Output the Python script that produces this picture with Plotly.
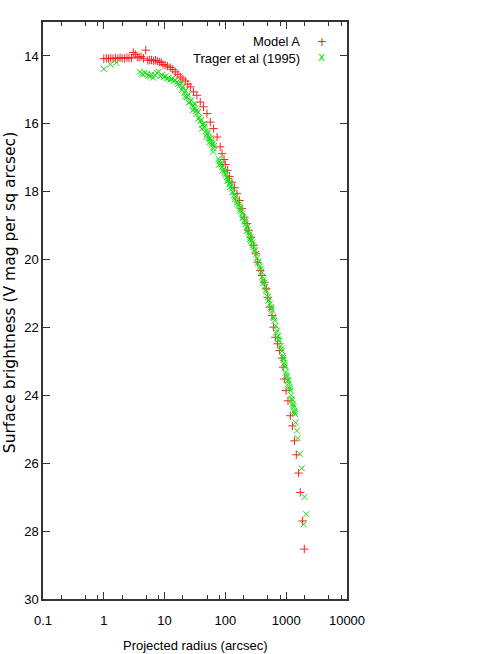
import plotly.graph_objects as go

# Model A surface brightness profile (radius in arcsec, V mag per sq arcsec)
model_r = [1.0, 1.1, 1.2, 1.3, 1.42, 1.55, 1.7, 1.85, 2.0, 2.2, 2.4, 2.6, 2.85,
           3.05, 3.3, 3.55, 3.8, 4.1, 4.5, 4.9, 5.3, 5.7, 6.1, 6.6, 7.1, 7.6,
           8.2, 8.8, 9.4, 10.2, 11.2, 12.4, 13.6, 15.0, 16.5, 18.1, 19.9, 21.9,
           24.1, 26.5, 29.9, 34.0, 38.6, 43.6, 49.7, 56.5, 64, 73, 82, 88, 95,
           99.6, 108.5, 117, 128, 141, 155, 171, 188, 204, 227, 240, 264, 291,
           318, 339, 375, 400, 436, 471, 494, 533, 584, 621, 662, 722, 778, 853,
           890, 931, 993, 1070, 1168, 1264, 1370, 1466, 1600, 1706, 1860, 1985]
model_mu = [14.08, 14.07, 14.08, 14.07, 14.08, 14.06, 14.08, 14.05, 14.07, 14.07,
            14.05, 14.06, 14.06, 13.9, 13.96, 14.03, 14.04, 14.02, 14.07, 13.83,
            14.13, 14.12, 14.12, 14.14, 14.13, 14.15, 14.18, 14.19, 14.25, 14.27,
            14.3, 14.34, 14.4, 14.47, 14.54, 14.62, 14.68, 14.74, 14.83, 14.91,
            15.06, 15.16, 15.36, 15.5, 15.7, 15.95, 16.14, 16.39, 16.68, 16.88,
            17.05, 17.2, 17.37, 17.55, 17.72, 17.88, 18.06, 18.26, 18.5, 18.75,
            18.94, 19.14, 19.34, 19.58, 19.83, 20.08, 20.32, 20.47, 20.67, 20.86,
            21.11, 21.4, 21.65, 21.99, 22.29, 22.48, 22.68, 22.9, 23.17, 23.52,
            23.86, 24.16, 24.6, 24.9, 25.34, 25.75, 26.29, 26.86, 27.7, 28.53]

# Trager et al (1995) observed profile
trager_r = [1.0, 1.28, 1.6, 3.9, 4.2, 4.4, 4.7, 5.1, 5.4, 5.8, 6.1, 6.45, 7.0,
            7.5, 7.95, 8.5, 9.0, 9.65, 10.3, 10.9, 11.6, 12.4, 13.2, 14.1, 15.0,
            16.0, 16.8, 17.7, 18.5, 19.3, 20.0, 21.0, 21.5, 22.0, 23.3, 24.5, 25,
            26.0, 27.5, 28.5, 29, 30.0, 31.5, 32, 33.0, 34.0, 35.5, 36, 37.0, 38.6,
            40.0, 41, 42.0, 44.0, 45, 46.0, 48.0, 49, 50.0, 52.0, 53.5, 54, 55.0,
            57.0, 58.5, 59, 60.0, 62.0, 63, 64.0, 65.0, 77, 79, 80, 82, 85, 88, 90,
            92, 97, 99, 101, 106, 108, 110, 113, 117, 119, 120, 124, 128, 131, 134,
            140, 143, 146, 152, 155, 158, 165, 170, 173, 176, 182, 188, 192, 196,
            205, 210, 215, 226, 230, 233, 240, 248, 252, 257, 266, 270, 275, 283,
            291, 298, 305, 320, 335, 340, 350, 370, 380, 390, 405, 415, 420, 435,
            450, 460, 475, 500, 510, 520, 540, 560, 570, 585, 610, 625, 640, 670,
            690, 705, 735, 750, 770, 810, 830, 850, 880, 890, 905, 930, 950, 960,
            995, 1015, 1030, 1065, 1080, 1100, 1135, 1150, 1168, 1210, 1230, 1250,
            1285, 1300, 1320, 1360, 1380, 1400, 1430, 1500, 1540, 1680, 1800, 2000,
            2140, 1930]
trager_mu = [14.38, 14.25, 14.2, 14.47, 14.52, 14.55, 14.5, 14.53, 14.58, 14.6,
             14.55, 14.64, 14.56, 14.5, 14.47, 14.6, 14.56, 14.62, 14.6, 14.67,
             14.65, 14.7, 14.68, 14.74, 14.72, 14.77, 14.82, 14.87, 14.8, 15.0,
             14.92, 15.08, 15.2, 15.02, 15.21, 15.15, 15.38, 15.35, 15.3, 15.45,
             15.6, 15.5, 15.42, 15.55, 15.62, 15.7, 15.65, 15.85, 15.82, 15.92,
             15.88, 16.15, 16.02, 16.1, 16.0, 16.08, 16.22, 16.38, 16.3, 16.25,
             16.4, 16.55, 16.45, 16.42, 16.55, 16.5, 16.62, 16.58, 16.82, 16.72,
             16.65, 17.03, 17.2, 17.1, 17.17, 17.2, 17.27, 17.38, 17.35, 17.45,
             17.38, 17.5, 17.57, 17.68, 17.62, 17.67, 17.78, 17.75, 17.86, 17.84,
             17.91, 18.0, 18.02, 18.1, 18.22, 18.15, 18.25, 18.35, 18.3, 18.38,
             18.42, 18.55, 18.48, 18.58, 18.65, 18.78, 18.74, 18.85, 18.88, 18.95,
             19.04, 19.15, 19.12, 19.2, 19.26, 19.4, 19.34, 19.44, 19.42, 19.5,
             19.58, 19.63, 19.72, 19.74, 19.83, 19.95, 20.1, 20.05, 20.2, 20.28,
             20.35, 20.5, 20.68, 20.6, 20.68, 20.8, 20.9, 20.95, 21.1, 21.2, 21.2,
             21.3, 21.4, 21.45, 21.5, 21.68, 21.72, 21.8, 21.95, 22.15, 22.09,
             22.25, 22.35, 22.4, 22.55, 22.62, 22.7, 22.85, 22.9, 22.95, 23.05,
             23.12, 23.17, 23.32, 23.4, 23.45, 23.55, 23.58, 23.65, 23.75, 23.8,
             23.86, 24.0, 24.1, 24.15, 24.25, 24.3, 24.35, 24.45, 24.5, 24.55,
             24.8, 25.04, 25.26, 25.72, 26.15, 26.99, 27.5, 27.8]

x_ticks = [0.1, 1, 10, 100, 1000, 10000]
x_tick_labels = ["0.1", "1", "10", "100", "1000", "10000"]
x_minor = [m * d for d in [0.1, 1, 10, 100, 1000] for m in (2, 5, 8)]
y_ticks = [14, 16, 18, 20, 22, 24, 26, 28, 30]

tick_font = dict(family="Liberation Sans Narrow, Liberation Sans, Arial", size=13, color="black")

fig = go.Figure()

fig.add_trace(go.Scatter(
    x=model_r, y=model_mu,
    mode="markers",
    marker=dict(symbol="cross-thin", size=6, line=dict(width=1, color="#ff2020")),
    name="Model A"
))

fig.add_trace(go.Scatter(
    x=trager_r, y=trager_mu,
    mode="markers",
    marker=dict(symbol="x-thin", size=6, line=dict(width=1, color="#10e010")),
    name="Trager et al (1995)"
))

axis_common = dict(
    showline=True, mirror="ticks", linecolor="#333333", linewidth=1.5,
    ticks="inside", ticklen=7, tickwidth=1, tickcolor="#333333",
    showgrid=False, zeroline=False, tickfont=tick_font, automargin=False
)

fig.update_xaxes(
    type="log", range=[-1, 4],
    tickmode="array", tickvals=x_ticks, ticktext=x_tick_labels,
    ticklabelstandoff=9,
    minor=dict(tickmode="array", tickvals=x_minor, ticks="inside", ticklen=4,
               tickcolor="#333333", showgrid=False),
    **axis_common
)
fig.update_yaxes(
    range=[30, 13], tickmode="array", tickvals=y_ticks,
    **axis_common
)

# gnuplot-style key: text first, then the symbol
fig.add_annotation(text="Model A", x=0.852, y=0.966, xref="paper", yref="paper",
                   xanchor="right", yanchor="middle", showarrow=False, font=tick_font)
fig.add_annotation(text="Trager et al (1995)", x=0.852, y=0.937, xref="paper", yref="paper",
                   xanchor="right", yanchor="middle", showarrow=False, font=tick_font)
fig.add_annotation(text="+", x=0.917, y=0.966, xref="paper", yref="paper",
                   xanchor="center", yanchor="middle", showarrow=False,
                   font=dict(family="DejaVu Sans", size=12, color="#ff2020"))
fig.add_annotation(text="x", x=0.917, y=0.939, xref="paper", yref="paper",
                   xanchor="center", yanchor="middle", showarrow=False,
                   font=dict(family="DejaVu Sans", size=12, color="#10e010"))

# axis titles
fig.add_annotation(text="Surface brightness (V mag per sq arcsec)", textangle=-90,
                   x=-0.11, y=0.531, xref="paper", yref="paper",
                   xanchor="center", yanchor="middle", showarrow=False,
                   font=dict(family="DejaVu Sans", size=15.5, color="black"))
fig.add_annotation(text="Projected radius (arcsec)", x=0.5, y=-0.08,
                   xref="paper", yref="paper", xanchor="center", yanchor="middle",
                   showarrow=False, font=tick_font)

fig.update_layout(
    width=491, height=654,
    margin=dict(l=43, r=144, t=22, b=55),
    plot_bgcolor="white", paper_bgcolor="white",
    showlegend=False
)

# drop the default 8px body margin so the figure fills the window
fig.write_html("out.html", config={"displayModeBar": False},
               post_script="document.body.style.margin='0';")
